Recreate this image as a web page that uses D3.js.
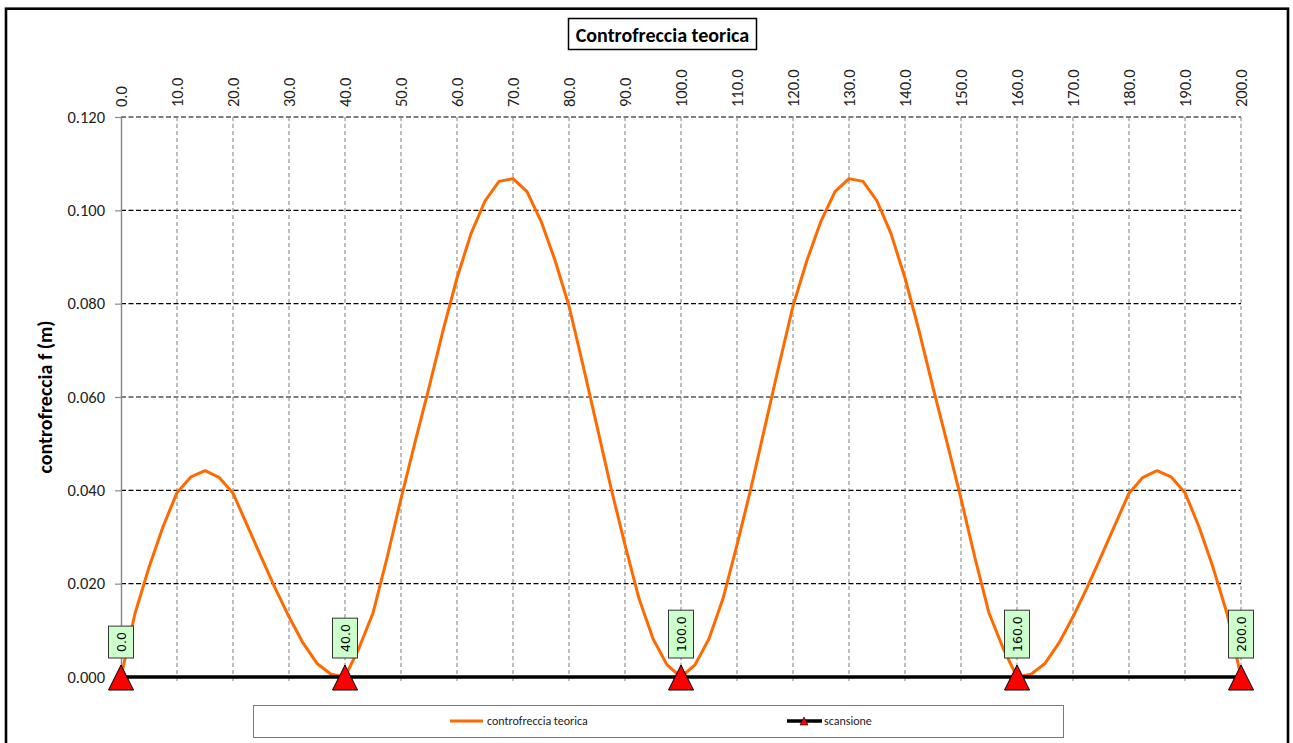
<!DOCTYPE html>
<html>
<head>
<meta charset="utf-8">
<script src="https://cdn.jsdelivr.net/npm/d3@7"></script>
<style>
  html, body { margin: 0; padding: 0; background: #fff; }
  svg { display: block; }
</style>
</head>
<body>
<svg id="chart" width="1293" height="743"></svg>
<script>
// Progressive (m) of the computed stations
const stations = [
  0, 2.5, 5, 7.5, 10, 12.5, 15, 17.5, 20, 22.5, 25, 27.5, 30, 32.5, 35, 37.5,
  40, 42.5, 45, 47.5, 50, 52.5, 55, 57.5, 60, 62.5, 65, 67.5, 70, 72.5, 75, 77.5,
  80, 82.5, 85, 87.5, 90, 92.5, 95, 97.5, 100, 102.5, 105, 107.5, 110, 112.5, 115, 117.5,
  120, 122.5, 125, 127.5, 130, 132.5, 135, 137.5, 140, 142.5, 145, 147.5, 150, 152.5, 155, 157.5,
  160, 162.5, 165, 167.5, 170, 172.5, 175, 177.5, 180, 182.5, 185, 187.5, 190, 192.5, 195, 197.5, 200
];

// Theoretical camber f (m) at each station
const camber = [
  0.0000, 0.0136, 0.0235, 0.0322, 0.0395, 0.0429, 0.0442, 0.0428, 0.0394, 0.0326, 0.0258, 0.0191, 0.0129, 0.0073, 0.0029, 0.0006,
  0.0000, 0.0062, 0.0137, 0.0255, 0.0382, 0.0503, 0.0620, 0.0742, 0.0855, 0.0950, 0.1020, 0.1062, 0.1068, 0.1040, 0.0977, 0.0893,
  0.0795, 0.0668, 0.0537, 0.0405, 0.0283, 0.0168, 0.0082, 0.0026, 0.0000, 0.0026, 0.0082, 0.0168, 0.0283, 0.0405, 0.0537, 0.0668,
  0.0795, 0.0893, 0.0977, 0.1040, 0.1068, 0.1062, 0.1020, 0.0950, 0.0855, 0.0742, 0.0620, 0.0503, 0.0382, 0.0255, 0.0137, 0.0062,
  0.0000, 0.0006, 0.0029, 0.0073, 0.0129, 0.0191, 0.0258, 0.0326, 0.0394, 0.0428, 0.0442, 0.0429, 0.0395, 0.0322, 0.0235, 0.0136, 0.0000
];

// Supports (scansione)
const supports = [0, 40, 100, 160, 200];
const supportValues = [0, 0, 0, 0, 0];

// Axis ticks
const xTickValues = [0, 10, 20, 30, 40, 50, 60, 70, 80, 90, 100, 110, 120, 130, 140, 150, 160, 170, 180, 190, 200];
const yTickValues = [0, 0.02, 0.04, 0.06, 0.08, 0.10, 0.12];

const svg = d3.select("#chart");
const plot = { left: 121, right: 1241, top: 117, bottom: 677 };

const x = d3.scaleLinear().domain([0, 200]).range([plot.left, plot.right]);
const y = d3.scaleLinear().domain([0, 0.12]).range([plot.bottom, plot.top]);

const calibri = "Carlito, Lato, 'Liberation Sans', sans-serif";

// Chart frame
svg.append("rect")
  .attr("x", 6).attr("y", 8.7)
  .attr("width", 1282).attr("height", 760)
  .attr("fill", "#fff").attr("stroke", "#000").attr("stroke-width", 2.6);

// Horizontal grid
svg.append("g")
  .selectAll("line")
  .data(yTickValues.filter(d => d > 0))
  .join("line")
  .attr("x1", plot.left).attr("x2", plot.right)
  .attr("y1", d => y(d)).attr("y2", d => y(d))
  .attr("stroke", "#000").attr("stroke-width", 1.1)
  .attr("stroke-dasharray", "5,2.5");

// Vertical grid
svg.append("g")
  .selectAll("line")
  .data(xTickValues.filter(d => d > 0))
  .join("line")
  .attr("x1", d => x(d)).attr("x2", d => x(d))
  .attr("y1", plot.top).attr("y2", plot.bottom + 6)
  .attr("stroke", "#8a8a8a").attr("stroke-width", 1.1)
  .attr("stroke-dasharray", "4,3");

// Y axis (left)
const yAxis = svg.append("g")
  .attr("transform", `translate(${plot.left},0)`)
  .call(d3.axisLeft(y).tickValues(yTickValues).tickFormat(d3.format(".3f"))
    .tickSize(6).tickSizeOuter(0).tickPadding(10));
yAxis.select(".domain").attr("stroke", "#8a8a8a").attr("stroke-width", 1.5);
yAxis.selectAll(".tick line").attr("stroke", "#8a8a8a").attr("stroke-width", 1.2);
yAxis.selectAll(".tick text")
  .attr("font-family", calibri).attr("font-size", 16.5).attr("fill", "#222");

// X axis labels (top, rotated)
const xAxis = svg.append("g")
  .attr("transform", `translate(0,${plot.top})`)
  .call(d3.axisTop(x).tickValues(xTickValues).tickFormat(d3.format(".1f"))
    .tickSize(0).tickSizeOuter(0));
xAxis.select(".domain").remove();
xAxis.selectAll(".tick text")
  .attr("transform", "rotate(-90)")
  .attr("x", 10).attr("y", 0).attr("dy", "0.35em")
  .attr("text-anchor", "start")
  .attr("font-family", calibri).attr("font-size", 16.5).attr("fill", "#222");

// Camber curve
const camberLine = d3.line()
  .x((d, i) => x(stations[i]))
  .y(d => y(d));
svg.append("path")
  .datum(camber)
  .attr("d", camberLine)
  .attr("fill", "none")
  .attr("stroke", "#FF6A00")
  .attr("stroke-width", 3)
  .attr("stroke-linejoin", "round");

// Supports line
const supportLine = d3.line()
  .x((d, i) => x(supports[i]))
  .y(d => y(d));
svg.append("path")
  .datum(supportValues)
  .attr("d", supportLine)
  .attr("fill", "none")
  .attr("stroke", "#000")
  .attr("stroke-width", 3.5);

// Support markers
const tri = "M0,-12.5L12.5,12.5L-12.5,12.5Z";
svg.append("g")
  .selectAll("path")
  .data(supports)
  .join("path")
  .attr("d", tri)
  .attr("transform", (d, i) => `translate(${x(d)},${y(supportValues[i]) + 0.5})`)
  .attr("fill", "#FF0000")
  .attr("stroke", "#000")
  .attr("stroke-width", 1);

// Support data labels
const labelFmt = d3.format(".1f");
const labels = svg.append("g")
  .selectAll("g")
  .data(supports)
  .join("g")
  .attr("transform", (d, i) => `translate(${x(d)},${y(supportValues[i]) - 19})`);
labels.each(function (d) {
  const g = d3.select(this);
  const t = g.append("text")
    .attr("transform", "rotate(-90)")
    .attr("x", 6).attr("y", 0).attr("dy", "0.36em")
    .attr("text-anchor", "start")
    .attr("font-family", "'DejaVu Sans', Verdana, sans-serif")
    .attr("font-size", 12.5)
    .attr("fill", "#000")
    .text(labelFmt(d));
  const len = t.node().getComputedTextLength();
  g.insert("rect", "text")
    .attr("x", -12.5).attr("y", -(len + 12))
    .attr("width", 25).attr("height", len + 12)
    .attr("fill", "#CCFFCC").attr("stroke", "#333").attr("stroke-width", 1);
});

// Title
svg.append("rect")
  .attr("x", 568.5).attr("y", 18.5).attr("width", 188).attr("height", 31)
  .attr("fill", "#fff").attr("stroke", "#000").attr("stroke-width", 1.5);
svg.append("text")
  .attr("x", 662.5).attr("y", 41.5)
  .attr("text-anchor", "middle")
  .attr("font-family", calibri).attr("font-weight", "bold").attr("font-size", 20)
  .attr("fill", "#000")
  .text("Controfreccia teorica");

// Y axis title
svg.append("text")
  .attr("transform", "translate(52,397) rotate(-90)")
  .attr("text-anchor", "middle")
  .attr("font-family", calibri).attr("font-weight", "bold").attr("font-size", 20)
  .attr("fill", "#000")
  .text("controfreccia f (m)");

// Legend
const legend = svg.append("g");
legend.append("rect")
  .attr("x", 253.5).attr("y", 705.5).attr("width", 810).attr("height", 32)
  .attr("fill", "#fff").attr("stroke", "#7a7a7a").attr("stroke-width", 1);
legend.append("line")
  .attr("x1", 450).attr("x2", 483).attr("y1", 721).attr("y2", 721)
  .attr("stroke", "#FF6A00").attr("stroke-width", 3);
legend.append("text")
  .attr("x", 487).attr("y", 725)
  .attr("font-family", calibri).attr("font-size", 12).attr("fill", "#222")
  .text("controfreccia teorica");
legend.append("line")
  .attr("x1", 787).attr("x2", 822).attr("y1", 721).attr("y2", 721)
  .attr("stroke", "#000").attr("stroke-width", 3.5);
legend.append("path")
  .attr("d", "M0,-4L4,4L-4,4Z")
  .attr("transform", "translate(804,721)")
  .attr("fill", "#FF0000").attr("stroke", "#000").attr("stroke-width", 0.6);
legend.append("text")
  .attr("x", 824).attr("y", 725)
  .attr("font-family", calibri).attr("font-size", 12).attr("fill", "#222")
  .text("scansione");
</script>
</body>
</html>
